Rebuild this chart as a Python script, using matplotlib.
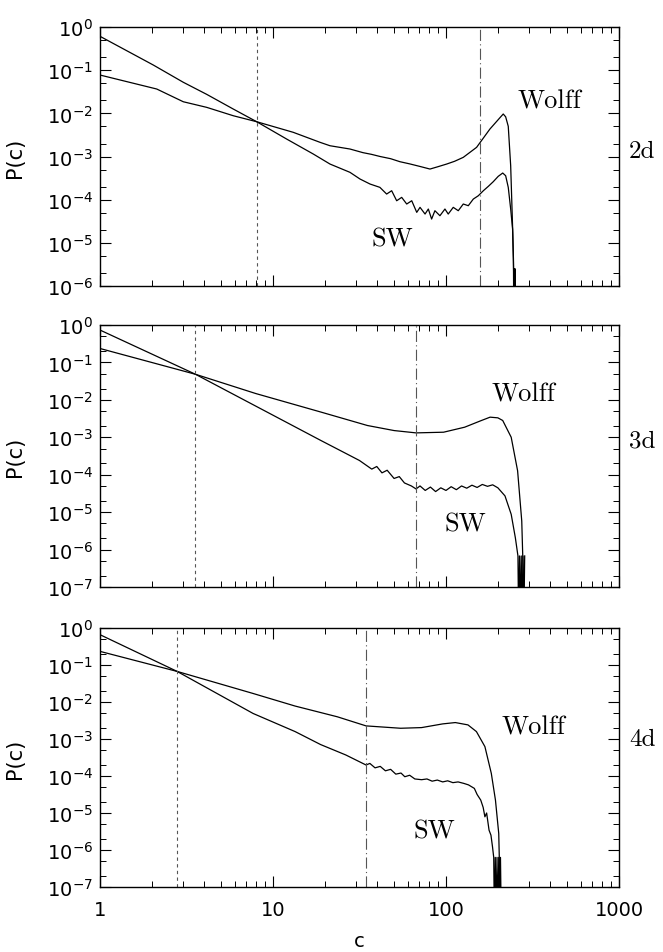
import numpy as np
import matplotlib
matplotlib.use("Agg")
import matplotlib.pyplot as plt
from matplotlib.ticker import LogLocator, NullFormatter

plt.rcParams['font.family'] = ['DejaVu Sans']
plt.rcParams['mathtext.fontset'] = 'dejavusans'

# ----------------------------
# data (log10 of c and of P(c))
# ----------------------------
# 2d
wolff_2d_logc = [0, 0.328, 0.4815, 0.617, 0.7705, 0.906, 1.117, 1.272, 1.3295, 1.445,
                 1.52, 1.57, 1.62, 1.68, 1.734, 1.79, 1.85, 1.9075, 1.95, 2.004, 2.05,
                 2.100, 2.177, 2.254, 2.312, 2.331, 2.345, 2.360, 2.374, 2.386, 2.393, 2.396]
wolff_2d_logp = [-1.112, -1.436, -1.731, -1.861, -2.055, -2.194, -2.439, -2.671, -2.750, -2.826,
                 -2.91, -2.95, -3.00, -3.05, -3.12, -3.17, -3.23, -3.290, -3.24, -3.174, -3.11,
                 -3.019, -2.787, -2.363, -2.10, -2.015, -2.08, -2.30, -3.213, -4.756, -6.0, -7.5]

sw_2d_logc = [0, 0.308, 0.4815, 0.617, 0.7705, 0.906, 1.079, 1.233, 1.3295, 1.445,
              1.503, 1.561, 1.618, 1.657, 1.686, 1.715, 1.744, 1.773, 1.802, 1.831,
              1.850, 1.879, 1.898, 1.917, 1.936, 1.965, 1.994, 2.013, 2.042, 2.071,
              2.100, 2.129, 2.158, 2.187, 2.216, 2.245, 2.273, 2.302, 2.328, 2.345,
              2.360, 2.374, 2.385, 2.390, 2.393, 2.395, 2.397, 2.399, 2.401]
sw_2d_logp = [-0.215, -0.88, -1.28, -1.56, -1.90, -2.194, -2.595, -2.942, -3.174, -3.366,
              -3.521, -3.637, -3.714, -3.869, -3.792, -4.024, -3.946, -4.100, -4.024, -4.293,
              -4.177, -4.332, -4.216, -4.448, -4.255, -4.371, -4.216, -4.332, -4.177, -4.255,
              -4.100, -4.139, -3.985, -3.908, -3.792, -3.690, -3.584, -3.459, -3.382, -3.445,
              -3.714, -4.216, -4.680, -5.375, -7.5, -5.6, -7.5, -5.6, -7.5]

# 3d
wolff_3d_logc = [0, 0.552, 0.90, 1.278, 1.546, 1.70, 1.827, 1.986, 2.108, 2.20,
                 2.255, 2.30, 2.328, 2.377, 2.414, 2.438, 2.455]
wolff_3d_logp = [-0.627, -1.316, -1.83, -2.327, -2.685, -2.82, -2.882, -2.864, -2.730, -2.56,
                 -2.462, -2.48, -2.551, -2.999, -3.894, -5.237, -8.0]

sw_3d_logc = [0, 0.552, 1.278, 1.40, 1.50, 1.571, 1.60, 1.63, 1.66, 1.70,
              1.73, 1.76, 1.80, 1.827, 1.85, 1.88, 1.91, 1.94, 1.97, 2.00,
              2.03, 2.06, 2.09, 2.12, 2.15, 2.18, 2.21, 2.24, 2.27, 2.30,
              2.341, 2.377, 2.401, 2.416, 2.42, 2.425, 2.43, 2.435, 2.44, 2.445,
              2.45, 2.455]
sw_3d_logp = [-0.134, -1.316, -3.088, -3.38, -3.62, -3.85, -3.78, -3.95, -3.88, -4.10,
              -4.05, -4.22, -4.30, -4.38, -4.30, -4.42, -4.33, -4.45, -4.35, -4.42,
              -4.32, -4.40, -4.30, -4.36, -4.28, -4.34, -4.26, -4.31, -4.27, -4.35,
              -4.565, -5.058, -5.684, -6.17, -8.0, -6.17, -8.0, -6.17, -8.0, -6.17,
              -8.0, -6.17]

# 4d
wolff_4d_logc = [0, 0.446, 0.885, 1.128, 1.372, 1.538, 1.738, 1.859, 1.981, 2.054,
                 2.127, 2.176, 2.225, 2.262, 2.286, 2.305, 2.317]
wolff_4d_logp = [-0.632, -1.174, -1.770, -2.110, -2.400, -2.646, -2.710, -2.692, -2.592, -2.556,
                 -2.619, -2.800, -3.206, -3.929, -4.652, -5.555, -8.0]

sw_4d_logc = [0, 0.446, 0.885, 1.128, 1.275, 1.421, 1.538, 1.56, 1.59, 1.62,
              1.65, 1.68, 1.71, 1.74, 1.762, 1.79, 1.82, 1.859, 1.89, 1.92,
              1.95, 1.981, 2.01, 2.04, 2.07, 2.103, 2.13, 2.164, 2.18, 2.201,
              2.215, 2.225, 2.235, 2.249, 2.26, 2.269, 2.276, 2.28, 2.285, 2.29,
              2.295, 2.30, 2.305, 2.31, 2.315, 2.32]
sw_4d_logp = [-0.181, -1.174, -2.310, -2.800, -3.150, -3.432, -3.703, -3.66, -3.78, -3.74,
              -3.86, -3.82, -3.95, -3.92, -4.02, -3.98, -4.08, -4.10, -4.08, -4.14,
              -4.11, -4.16, -4.13, -4.18, -4.16, -4.20, -4.24, -4.335, -4.50, -4.652,
              -4.85, -5.103, -5.00, -5.465, -5.60, -5.916, -6.2, -8.0, -6.2, -8.0,
              -6.2, -8.0, -6.2, -8.0, -6.2, -8.0]

# vertical marker lines (c values)
dotted_c = [8.05, 3.56, 2.79]
dashdot_c = [157, 67, 34.5]

dims = ['2d', '3d', '4d']
ymin_exp = [-6, -7, -7]

# label positions (log10 c, log10 P)
wolff_lbl = [(2.60, -1.71), (2.45, -1.84), (2.505, -2.665)]
sw_lbl = [(1.69, -4.91), (2.11, -5.30), (1.933, -5.465)]
dim_lbl_y = [0.52, 0.56, 0.57]

curves = [(wolff_2d_logc, wolff_2d_logp, sw_2d_logc, sw_2d_logp),
          (wolff_3d_logc, wolff_3d_logp, sw_3d_logc, sw_3d_logp),
          (wolff_4d_logc, wolff_4d_logp, sw_4d_logc, sw_4d_logp)]

# ----------------------------
# figure
# ----------------------------
fig = plt.figure(figsize=(6.63, 9.53), dpi=100)
boxes = [[0.1508, 0.6988, 0.7828, 0.2718],
         [0.1508, 0.3830, 0.7828, 0.2749],
         [0.1508, 0.0682, 0.7828, 0.2718]]

for i in range(3):
    ax = fig.add_axes(boxes[i])
    wc, wp, sc, sp = curves[i]
    ax.plot(10.0 ** np.array(wc), 10.0 ** np.array(wp), color='black', lw=0.9)
    ax.plot(10.0 ** np.array(sc), 10.0 ** np.array(sp), color='black', lw=0.9)
    ax.axvline(dotted_c[i], color='#555555', lw=0.8, ls=(0, (3, 3)))
    ax.axvline(dashdot_c[i], color='#555555', lw=0.8, ls=(0, (10, 3, 1, 3)))

    ax.set_xscale('log')
    ax.set_yscale('log')
    ax.set_xlim(1, 1000)
    ax.set_ylim(10.0 ** ymin_exp[i], 1)

    ax.set_yticks([10.0 ** k for k in range(ymin_exp[i], 1)])
    ax.yaxis.set_minor_locator(LogLocator(base=10, subs=(2.0, 5.0), numticks=20))
    ax.yaxis.set_minor_formatter(NullFormatter())
    ax.set_xticks([1, 10, 100, 1000])
    ax.xaxis.set_minor_locator(LogLocator(base=10, subs=np.arange(2, 10), numticks=20))
    ax.xaxis.set_minor_formatter(NullFormatter())
    if i == 2:
        ax.set_xticklabels(['1', '10', '100', '1000'])
        ax.set_xlabel('c', fontsize=14)
        ax.xaxis.set_label_coords(0.5, -0.17)
    else:
        ax.set_xticklabels([])

    ax.tick_params(which='both', direction='in', top=True, right=True, labelsize=14)
    ax.tick_params(which='major', length=8, width=0.8)
    ax.tick_params(which='minor', length=4, width=0.7)
    ax.tick_params(axis='x', pad=9)
    ax.tick_params(axis='y', pad=5)
    for s in ax.spines.values():
        s.set_linewidth(1.0)

    ax.set_ylabel('P(c)', fontsize=15)
    ax.yaxis.set_label_coords(-0.145, 0.5)

    ax.text(10 ** wolff_lbl[i][0], 10 ** wolff_lbl[i][1], 'Wolff', family='cmr10',
            fontsize=19, ha='center', va='center')
    ax.text(10 ** sw_lbl[i][0], 10 ** sw_lbl[i][1], 'SW', family='cmr10',
            fontsize=19, ha='center', va='center')
    ax.text(1.045, dim_lbl_y[i], dims[i], family='cmr10', fontsize=18,
            ha='center', va='center', transform=ax.transAxes)

fig.savefig('out.png', dpi=100)
